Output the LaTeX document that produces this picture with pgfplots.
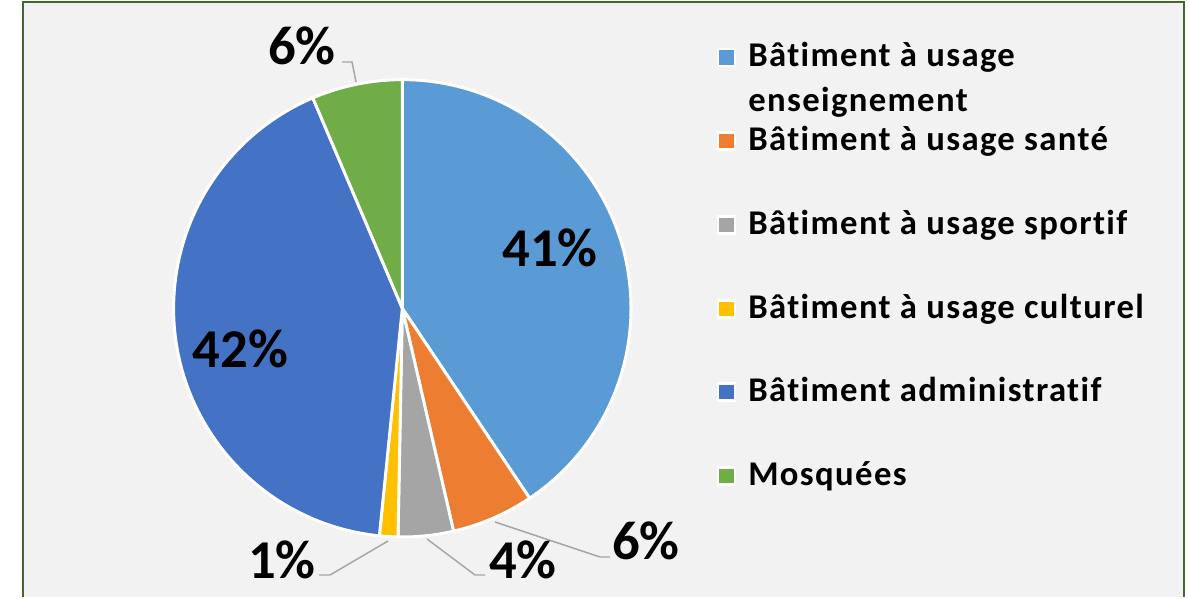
\documentclass[border=0pt]{standalone}
\usepackage{fontspec}
\setmainfont{Carlito}[Ligatures=NoCommon]
\newfontfamily\legfont{Carlito}[Ligatures=NoCommon, LetterSpace=4]
\usepackage{pgfplots}
\usepackage{pgfplotstable}
\pgfplotsset{compat=1.18}

\definecolor{pie0}{HTML}{5B9BD5}
\definecolor{pie1}{HTML}{ED7D31}
\definecolor{pie2}{HTML}{A5A5A5}
\definecolor{pie3}{HTML}{FFC000}
\definecolor{pie4}{HTML}{4472C4}
\definecolor{pie5}{HTML}{70AD47}
\definecolor{panel}{HTML}{F2F2F2}
\definecolor{frame}{HTML}{44682B}
\definecolor{leader}{HTML}{A6A6A6}

% shares in percent, clockwise from 12 o'clock
\pgfplotstableread{
value
40.6
5.8
3.9
1.3
42.0
6.4
}\piedata

\begin{document}
\begin{tikzpicture}
% start/end angles of each slice
\pgfmathsetmacro\cum{0}
\pgfplotsforeachungrouped \i in {0,...,5}{%
  \pgfplotstablegetelem{\i}{value}\of\piedata
  \let\v\pgfplotsretval
  \pgfmathsetmacro\a{90-3.6*\cum}
  \pgfmathsetmacro\b{90-3.6*(\cum+\v)}
  \expandafter\xdef\csname sa\i\endcsname{\a}
  \expandafter\xdef\csname sb\i\endcsname{\b}
  \pgfmathsetmacro\cum{\cum+\v}
  \xdef\cum{\cum}
}
\tikzset{
  pct/.style={inner sep=0pt, font=\fontsize{41}{41}\selectfont\bfseries, text depth=0pt},
  leg/.style={anchor=base west, inner sep=0pt, font=\legfont\fontsize{26}{26}\selectfont\bfseries},
  key/.style={draw=white, line width=2.2pt},
}
\begin{axis}[
  scale only axis, width=891pt, height=447.75pt,
  xmin=0, xmax=1188, ymin=0, ymax=597, y dir=reverse,
  hide axis, clip=false,
]
\fill[white] (axis cs:0,0) rectangle (axis cs:1188,597);
\fill[panel] (axis cs:22,2) rectangle (axis cs:1184,597);
\draw[frame, line width=1.6pt] (axis cs:23,597) -- (axis cs:23,2) -- (axis cs:1184,2) -- (axis cs:1184,597);

\pgfplotsinvokeforeach{0,...,5}{
  \edef\tmp{\noexpand\fill[fill=pie#1, draw=white, line width=2.2pt, line join=round]
    (axis cs:402.3,308.3) -- ++(\csname sa#1\endcsname:171.5pt)
    arc[start angle=\csname sa#1\endcsname, end angle=\csname sb#1\endcsname, radius=171.5pt] -- cycle;}
  \tmp
}

% leader lines
\draw[leader, line width=1.1pt] (axis cs:342,62) -- (axis cs:352,62) -- (axis cs:356,82);
\draw[leader, line width=1.1pt] (axis cs:495,522) -- (axis cs:600,557) -- (axis cs:610,557);
\draw[leader, line width=1.1pt] (axis cs:427,539) -- (axis cs:475,575) -- (axis cs:485,575);
\draw[leader, line width=1.1pt] (axis cs:388,541) -- (axis cs:330,575) -- (axis cs:319,575);

% data labels
\node[pct] at (axis cs:550,248) {41\%};
\node[pct] at (axis cs:240.5,349) {42\%};
\node[pct] at (axis cs:302,46) {6\%};
\node[pct] at (axis cs:646,541) {6\%};
\node[pct] at (axis cs:523,560) {4\%};
\node[pct] at (axis cs:282,560) {1\%};

% legend
\fill[pie0, key] (axis cs:718,49) rectangle (axis cs:735,66);
\node[leg] at (axis cs:748,67) {Bâtiment à usage};
\node[leg] at (axis cs:748,112) {enseignement};
\fill[pie1, key] (axis cs:718,132.7) rectangle (axis cs:735,149.7);
\node[leg] at (axis cs:748,150.7) {Bâtiment à usage santé};
\fill[pie2, key] (axis cs:718,216.4) rectangle (axis cs:735,233.4);
\node[leg] at (axis cs:748,234.4) {Bâtiment à usage sportif};
\fill[pie3, key] (axis cs:718,300.1) rectangle (axis cs:735,317.1);
\node[leg] at (axis cs:748,318.1) {Bâtiment à usage culturel};
\fill[pie4, key] (axis cs:718,383.8) rectangle (axis cs:735,400.8);
\node[leg] at (axis cs:748,401.8) {Bâtiment administratif};
\fill[pie5, key] (axis cs:718,467.5) rectangle (axis cs:735,484.5);
\node[leg] at (axis cs:748,485.5) {Mosquées};
\end{axis}
\end{tikzpicture}
\end{document}
